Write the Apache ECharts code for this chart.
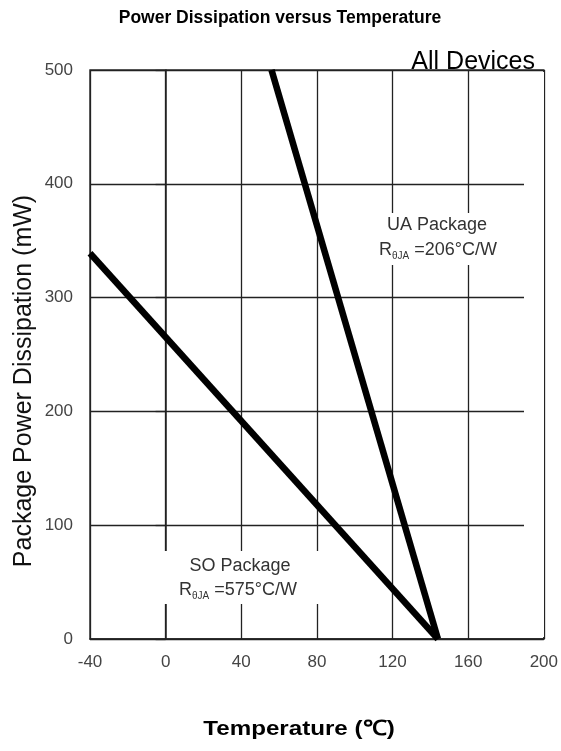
<!DOCTYPE html>
<html>
<head>
<meta charset="utf-8">
<script src="https://cdn.jsdelivr.net/npm/echarts@6/dist/echarts.min.js"></script>
<style>
  html, body { margin: 0; padding: 0; background: #fff; }
  #chart { width: 561px; height: 751px; }
</style>
</head>
<body>
<div id="chart"></div>
<script>
// 数据
const soTemp = [-40, 144];
const soPower = [339, 0];
const uaTemp = [56, 144];
const uaPower = [500, 0];

const xTicks = [-40, 0, 40, 80, 120, 160, 200];
const yTicks = [0, 100, 200, 300, 400, 500];

const FONT = '"Liberation Sans", Arial, sans-serif';

(function() {
    let soData = soTemp.map((t, i) => [t, soPower[i]]);
    let uaData = uaTemp.map((t, i) => [t, uaPower[i]]);

    var myChart = echarts.init(document.getElementById('chart'));

    // 下标文字样式
    var richR = {
        r: { font: '18px ' + FONT, fill: '#333', lineHeight: 22, verticalAlign: 'middle' },
        s: { font: '10px ' + FONT, fill: '#333', lineHeight: 22, verticalAlign: 'bottom' }
    };

    var option = {
        animation: false,
        backgroundColor: '#fff',
        grid: {
            left: 90, right: 15, top: 70, bottom: 112,
            show: true,
            borderColor: '#333',
            borderWidth: 1.5
        },
        xAxis: {
            type: 'value',
            min: xTicks[0],
            max: xTicks[xTicks.length - 1],
            interval: 40,
            axisLine: { show: true, lineStyle: { color: '#222', width: 1.5 } },
            axisTick: { show: false },
            axisLabel: { color: '#444', fontSize: 17, fontFamily: FONT, margin: 15 },
            splitLine: { show: true, lineStyle: { color: '#222', width: 1.3 } }
        },
        yAxis: {
            type: 'value',
            min: yTicks[0],
            max: yTicks[yTicks.length - 1],
            interval: 100,
            axisLine: { show: true, lineStyle: { color: '#222', width: 1.5 } },
            axisTick: { show: true, inside: false, length: 10, lineStyle: { color: '#222', width: 1.3 } },
            axisLabel: { color: '#444', fontSize: 17, fontFamily: FONT, margin: 17 },
            splitLine: { show: true, lineStyle: { color: '#222', width: 1.3 } }
        },
        graphic: [
            // 标签背景遮住网格线
            { type: 'rect', z: 1, shape: { x: 150, y: 551, width: 170, height: 53 }, style: { fill: '#fff' } },
            { type: 'rect', z: 1, shape: { x: 370, y: 213, width: 140, height: 52 }, style: { fill: '#fff' } },
            // 横向网格线在右边框前结束
            { type: 'rect', z: 1, shape: { x: 524, y: 72, width: 20, height: 565 }, style: { fill: '#fff' } },
            {
                type: 'text', z: 5, x: 280, y: 18,
                style: { text: 'Power Dissipation versus Temperature', font: 'bold 17.5px ' + FONT, fill: '#000', align: 'center', verticalAlign: 'middle' }
            },
            {
                type: 'text', z: 5, x: 535, y: 62,
                style: { text: 'All Devices', font: '25px ' + FONT, fill: '#000', align: 'right', verticalAlign: 'middle' }
            },
            {
                type: 'text', z: 5, x: 24, y: 381, rotation: Math.PI / 2,
                style: { text: 'Package Power Dissipation (mW)', font: '25px ' + FONT, fill: '#111', align: 'center', verticalAlign: 'middle' }
            },
            {
                type: 'text', z: 5, x: 299, y: 729, scaleX: 1.15,
                style: { text: 'Temperature (℃)', font: 'bold 21px ' + FONT, fill: '#000', align: 'center', verticalAlign: 'middle' }
            },
            {
                type: 'text', z: 5, x: 437, y: 225,
                style: { text: 'UA Package', font: '18px ' + FONT, fill: '#333', align: 'center', verticalAlign: 'middle' }
            },
            {
                type: 'text', z: 5, x: 438, y: 250,
                style: { text: '{r|R}{s|θJA}{r| =206°C/W}', align: 'center', verticalAlign: 'middle', fill: '#333', rich: richR }
            },
            {
                type: 'text', z: 5, x: 240, y: 566,
                style: { text: 'SO Package', font: '18px ' + FONT, fill: '#333', align: 'center', verticalAlign: 'middle' }
            },
            {
                type: 'text', z: 5, x: 238, y: 590,
                style: { text: '{r|R}{s|θJA}{r| =575°C/W}', align: 'center', verticalAlign: 'middle', fill: '#333', rich: richR }
            }
        ],
        series: [
            {
                name: 'SO Package',
                type: 'line',
                data: soData,
                symbol: 'none',
                z: 3,
                lineStyle: { color: '#000', width: 6.5 }
            },
            {
                name: 'UA Package',
                type: 'line',
                data: uaData,
                symbol: 'none',
                z: 3,
                lineStyle: { color: '#000', width: 6.5 }
            }
        ]
    };

    myChart.setOption(option);

    window.addEventListener('resize', function() {
        myChart.resize();
    });
})();
</script>
</body>
</html>
